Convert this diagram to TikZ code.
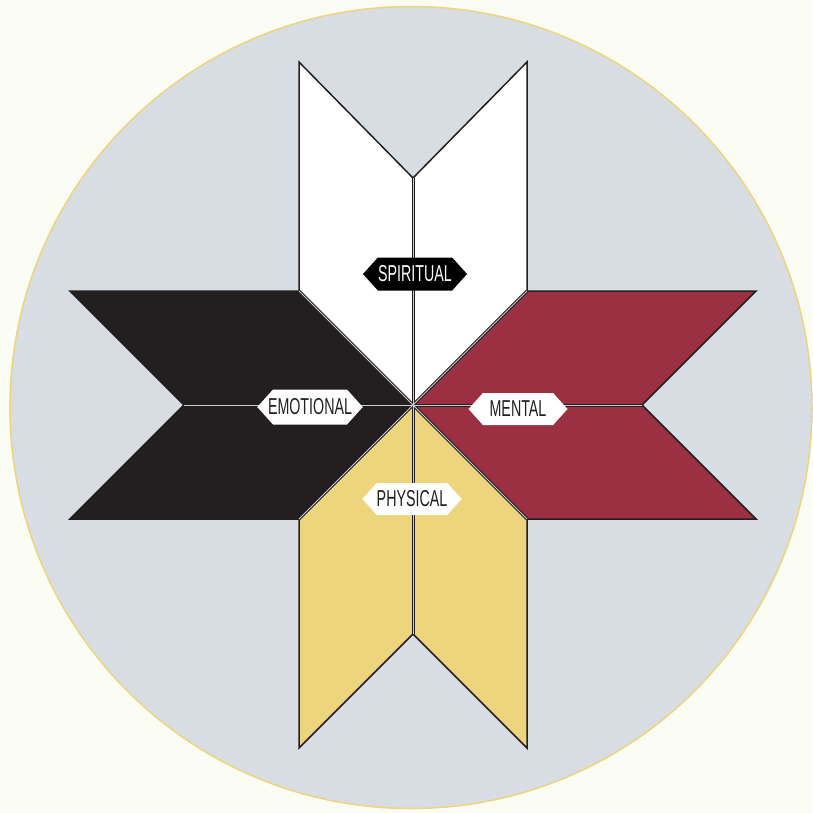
\documentclass[tikz,border=0pt]{standalone}
\usepackage{fontspec}
\setmainfont[FakeStretch=0.62]{Liberation Sans}
\usetikzlibrary{shapes.symbols}
\definecolor{bgc}{HTML}{FBFCF3}
\definecolor{circfill}{HTML}{D8DDE3}
\definecolor{circline}{HTML}{EDD57E}
\definecolor{inkc}{HTML}{231F20}
\definecolor{redc}{HTML}{9B3043}
\definecolor{yelc}{HTML}{EDD57D}
\definecolor{gapc}{HTML}{C9CBCE}
\begin{document}
\begin{tikzpicture}[x=1pt,y=-1pt,
  petal/.style={draw=inkc, line width=1.5pt, line join=miter},
  seamdark/.style={draw=inkc, line width=3pt},
  seamlight/.style={draw=gapc, line width=1pt},
  tag/.style={shape=signal, signal to=east and west, signal pointer angle=96,
    inner sep=0pt, minimum height=32pt, font=\fontsize{23}{23}\selectfont},
  whitetag/.style={tag, fill=white, text=inkc},
  blacktag/.style={tag, fill=black, text=white}]
\fill[bgc] (0,0) rectangle (812,813);
\useasboundingbox (0,0) rectangle (812,813);
\draw[fill=circfill, draw=circline, line width=1.5pt] (411,407.5) circle[radius=401];
\begin{scope}[shift={(413,405)}]
  \coordinate (c) at (0,0);
  \coordinate (nt) at (0,-227);
  \coordinate (nr) at (229,0);
  \coordinate (nb) at (0,229);
  \coordinate (nl) at (-229,0);
  \coordinate (ul) at (-114,-114);
  \coordinate (ur) at (114,-114);
  \coordinate (dl) at (-114,114);
  \coordinate (dr) at (114,114);
  % top (white)
  \path[petal, fill=white] (c) -- (ul) -- (-114,-343) -- (nt) -- cycle;
  \path[petal, fill=white] (c) -- (ur) -- (114,-343) -- (nt) -- cycle;
  % right (red)
  \path[petal, fill=redc] (c) -- (ur) -- (343,-114) -- (nr) -- cycle;
  \path[petal, fill=redc] (c) -- (dr) -- (343,114) -- (nr) -- cycle;
  % bottom (yellow)
  \path[petal, fill=yelc] (c) -- (dl) -- (-114,343) -- (nb) -- cycle;
  \path[petal, fill=yelc] (c) -- (dr) -- (114,343) -- (nb) -- cycle;
  % left (black)
  \path[petal, fill=inkc] (c) -- (ul) -- (-343,-114) -- (nl) -- cycle;
  \path[petal, fill=inkc] (c) -- (dl) -- (-343,114) -- (nl) -- cycle;
  % seams
  \foreach \p in {nt,nr,nb,nl,ul,ur,dl,dr} {\draw[seamdark] (c) -- (\p);}
  \foreach \p in {nt,nr,nb,nl,ul,ur,dl,dr} {\draw[seamlight] (c) -- (\p);}
\end{scope}
\node[blacktag, minimum width=104pt, minimum height=33pt] (spiritual) at (415,274) {SPIRITUAL};
\node[whitetag, inner xsep=-5pt, minimum width=104pt, minimum height=35pt] (emotional) at (310,407) {EMOTIONAL};
\node[whitetag, minimum width=99pt] (mental) at (518,409) {MENTAL};
\node[whitetag, minimum width=99pt] (physical) at (412,499) {PHYSICAL};
\end{tikzpicture}
\end{document}
